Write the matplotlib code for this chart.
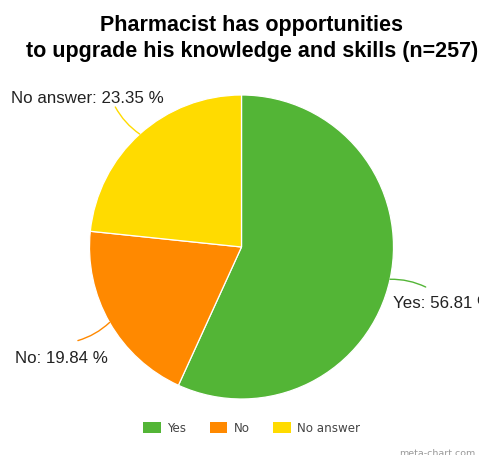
import numpy as np
import matplotlib.pyplot as plt
from matplotlib.patches import Patch

# survey answers (percent of n=257)
categories = ["Yes", "No", "No answer"]
shares = [56.81, 19.84, 23.35]
colors = ["#53B536", "#FF8900", "#FFDB00"]

W, H = 479, 455
cx, cy, R = 241.5, H - 247, 152

fig = plt.figure(figsize=(W / 100, H / 100), dpi=100)
ax = fig.add_axes([0, 0, 1, 1])
ax.set_xlim(0, W)
ax.set_ylim(0, H)
ax.set_aspect("equal")
ax.axis("off")

wedges, _ = ax.pie(shares, colors=colors, startangle=90, counterclock=False,
                   center=(cx, cy), radius=R, frame=True,
                   wedgeprops=dict(edgecolor="white", linewidth=0.9))
ax.set_xlim(0, W)
ax.set_ylim(0, H)
ax.axis("off")

# label positions (left edge, baseline) for each slice
label_pos = [(393, H - 308), (15, H - 363), (11.5, H - 103)]

for w, cat, val, col, (tx, ty) in zip(wedges, categories, shares, colors, label_pos):
    mid = np.deg2rad((w.theta1 + w.theta2) / 2)
    x0, y0 = cx + R * np.cos(mid), cy + R * np.sin(mid)
    x1, y1 = cx + 1.24 * R * np.cos(mid), cy + 1.24 * R * np.sin(mid)
    ax.annotate("", xy=(x1, y1), xytext=(x0, y0),
                arrowprops=dict(arrowstyle="-", color=col, lw=1.0,
                                shrinkA=0, shrinkB=0,
                                connectionstyle="arc3,rad=-0.12"))
    ax.text(tx, ty, f"{cat}: {val:.2f} %", family="Liberation Sans",
            fontsize=12.2, color="#222222", ha="left", va="baseline")

ax.text(252, H - 31.5, "Pharmacist has opportunities", family="Liberation Sans",
        fontsize=15.5, fontweight="bold", ha="center", va="baseline")
ax.text(252, H - 57.5, "to upgrade his knowledge and skills (n=257)",
        family="Liberation Sans", fontsize=15.5, fontweight="bold",
        ha="center", va="baseline")

handles = [Patch(facecolor=c, edgecolor="none", label=n) for n, c in zip(categories, colors)]
ax.legend(handles=handles, loc="center", bbox_to_anchor=(251.5, H - 428),
          bbox_transform=ax.transData, ncol=3, frameon=False,
          prop=dict(family="DejaVu Sans", size=8.6), labelcolor="#444444",
          handlelength=1.5, handleheight=1.1, handletextpad=0.5,
          columnspacing=2.0, borderpad=0)

ax.text(475, -0.5, "meta-chart.com", family="DejaVu Sans", fontsize=6.8,
        color="#999999", ha="right", va="baseline")

fig.savefig("out.png", dpi=100)
